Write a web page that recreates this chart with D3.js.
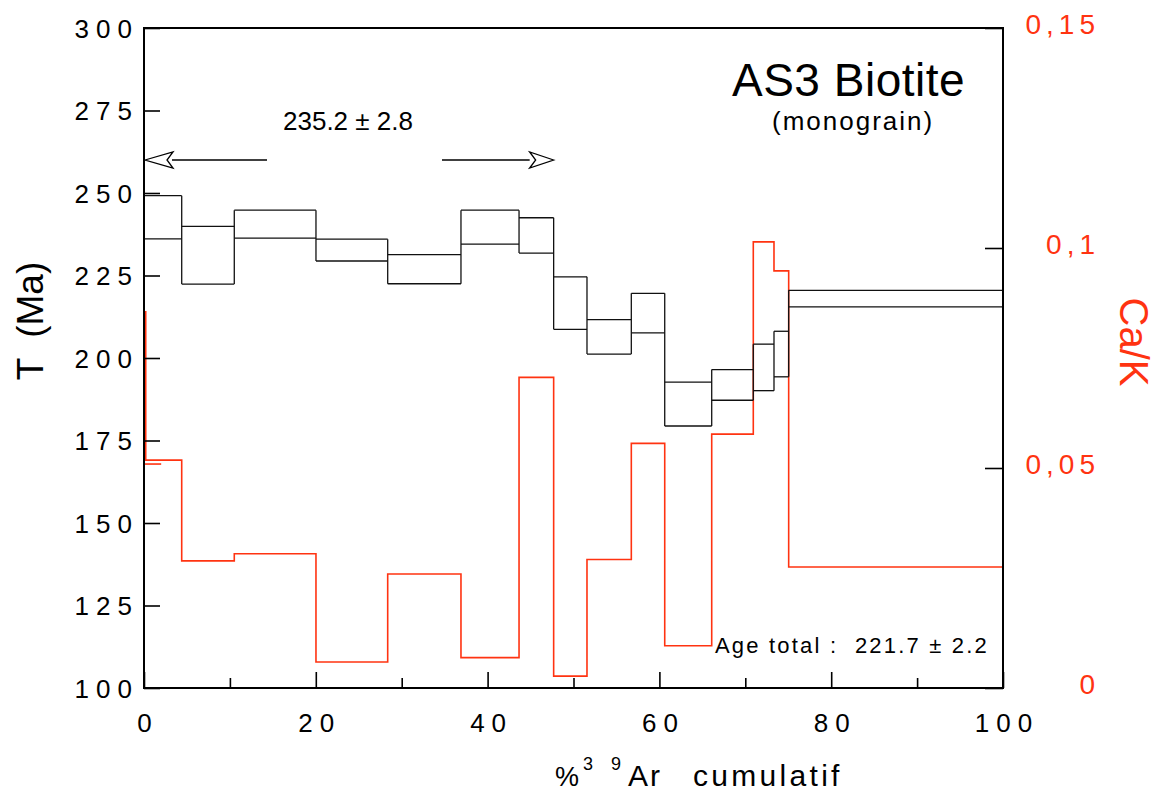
<!DOCTYPE html>
<html><head><meta charset="utf-8">
<script src="https://cdn.jsdelivr.net/npm/d3@7"></script>
<style>
html,body{margin:0;padding:0;background:#fff;}
svg{display:block;}
text{font-family:"Liberation Sans",Arial,Helvetica,sans-serif;}
</style></head>
<body>
<svg id="chart" width="1163" height="798"></svg>
<script>
// ---- data ----
const stepEdges = [0, 4.39, 10.51, 20.02, 28.37, 36.90, 43.66, 47.69, 51.57, 56.73, 60.62, 66.09, 70.93, 73.34, 75.05, 100];
const ageHigh = [249.2, 239.9, 244.8, 236.0, 231.3, 244.8, 242.5, 224.6, 211.6, 219.6, 192.7, 196.5, 204.2, 208.1, 220.5];
const ageLow  = [236.1, 222.4, 236.3, 229.4, 222.5, 234.5, 231.8, 208.7, 201.2, 207.6, 179.4, 187.2, 190.1, 194.3, 215.5];
const caKEdges = [0, 0.2, 4.39, 10.51, 20.02, 28.37, 36.90, 43.66, 47.69, 51.57, 56.73, 60.62, 66.09, 70.93, 73.34, 75.05, 100];
const caKValues = [0.0855, 0.0518, 0.0289, 0.0305, 0.0059, 0.0259, 0.0069, 0.0706, 0.0027, 0.0292, 0.0556, 0.0096, 0.0577, 0.1014, 0.0948, 0.0275];
const caKStub = [0, 2.0, 0.0509];
const xTicksMajor = [0, 20, 40, 60, 80, 100];
const xTicksMinor = [10, 30, 50, 70, 90];
const leftTicks = [100, 125, 150, 175, 200, 225, 250, 275, 300];
const rightTicks = [0, 0.05, 0.1, 0.15];
const rightTickLabels = ["0", "0,05", "0,1", "0,15"];
const plateau = {age: 260, x0: 0, x1: 47.69, label: "235.2 \u00b1 2.8"};
const totalAgeLabel = "Age total :  221.7 \u00b1 2.2";
const title = "AS3 Biotite";
const subtitle = "(monograin)";

// ---- layout ----
const RED = "#ff3311";
const svg = d3.select("#chart");
const x = d3.scaleLinear().domain([0, 100]).range([144, 1003]);
const yL = d3.scaleLinear().domain([100, 300]).range([688, 28]);
const yR = d3.scaleLinear().domain([0, 0.15]).range([688, 28]);

// red Ca/K step line
const redPts = [];
caKValues.forEach((v, i) => {
  redPts.push([x(caKEdges[i]), yR(v)]);
  redPts.push([x(caKEdges[i + 1]), yR(v)]);
});
svg.append("path").attr("d", d3.line()(redPts))
  .attr("fill", "none").attr("stroke", RED).attr("stroke-width", 1.6);
svg.append("line")
  .attr("x1", x(caKStub[0])).attr("x2", x(caKStub[1]))
  .attr("y1", yR(caKStub[2])).attr("y2", yR(caKStub[2]))
  .attr("stroke", RED).attr("stroke-width", 1.6);

// black age spectrum: top and bottom of each step, verticals joining neighbours
const gA = svg.append("g").attr("stroke", "#111").attr("stroke-width", 1.3).attr("fill", "none");
ageHigh.forEach((h, i) => {
  [h, ageLow[i]].forEach(v => {
    gA.append("line").attr("x1", x(stepEdges[i])).attr("x2", x(stepEdges[i + 1]))
      .attr("y1", yL(v)).attr("y2", yL(v));
  });
});
for (let i = 0; i <= ageHigh.length; i++) {
  const hs = [], ls_ = [];
  if (i > 0) { hs.push(ageHigh[i - 1]); ls_.push(ageLow[i - 1]); }
  if (i < ageHigh.length) { hs.push(ageHigh[i]); ls_.push(ageLow[i]); }
  gA.append("line").attr("x1", x(stepEdges[i])).attr("x2", x(stepEdges[i]))
    .attr("y1", yL(d3.max(hs))).attr("y2", yL(d3.min(ls_)));
}

// axes
function styleAxis(g) {
  g.select(".domain").remove();
  g.selectAll(".tick line").attr("stroke", "#000").attr("stroke-width", 1.6);
}
const fs = 26, ls = 7;
const gL = svg.append("g").attr("transform", `translate(${x(0)},0)`)
  .call(d3.axisLeft(yL).tickValues(leftTicks).tickSize(-16).tickFormat(d3.format("d")));
styleAxis(gL);
gL.selectAll(".tick text").attr("x", -12 + ls).attr("dy", 9)
  .attr("font-size", fs).attr("letter-spacing", ls).attr("fill", "#000")
  .attr("font-family", "Liberation Sans");

const gB = svg.append("g").attr("transform", `translate(0,${yL(100)})`)
  .call(d3.axisBottom(x).tickValues(xTicksMajor).tickSize(-16).tickFormat(d3.format("d")));
styleAxis(gB);
gB.selectAll(".tick text").attr("y", 44).attr("dy", 0).attr("dx", ls / 2)
  .attr("font-size", fs).attr("letter-spacing", ls).attr("fill", "#000")
  .attr("font-family", "Liberation Sans");
const gB2 = svg.append("g").attr("transform", `translate(0,${yL(100)})`)
  .call(d3.axisBottom(x).tickValues(xTicksMinor).tickSize(-10).tickFormat(""));
styleAxis(gB2);

const gR = svg.append("g").attr("transform", `translate(${x(100)},0)`)
  .call(d3.axisRight(yR).tickValues(rightTicks).tickSize(-18)
    .tickFormat((d, i) => rightTickLabels[i]));
styleAxis(gR);
gR.selectAll(".tick text").attr("text-anchor", "end").attr("x", 92 + 5).attr("dy", 5)
  .attr("font-size", 28).attr("letter-spacing", 5).attr("fill", RED)
  .attr("font-family", "Liberation Sans");

// frame
svg.append("rect").attr("x", x(0)).attr("y", yL(300))
  .attr("width", x(100) - x(0)).attr("height", yL(100) - yL(300))
  .attr("fill", "none").attr("stroke", "#000").attr("stroke-width", 2);

// axis titles
const xt = svg.append("text").attr("font-size", 30).attr("fill", "#000");
xt.append("tspan").attr("x", 555).attr("y", 786).attr("font-size", 27).text("%");
xt.append("tspan").attr("x", 583).attr("y", 770).attr("font-size", 18).text("3");
xt.append("tspan").attr("x", 611).attr("y", 770).attr("font-size", 18).text("9");
xt.append("tspan").attr("x", 628).attr("y", 786).attr("letter-spacing", 2).text("Ar");
xt.append("tspan").attr("x", 693).attr("y", 786).attr("letter-spacing", 3.3).text("cumulatif");

svg.append("text").attr("transform", "translate(43,321) rotate(-90)")
  .attr("text-anchor", "middle").attr("font-size", 37).attr("fill", "#000")
  .attr("xml:space", "preserve").text("T  (Ma)");
svg.append("text").attr("transform", "translate(1120,342) rotate(90)")
  .attr("text-anchor", "middle").attr("font-size", 40).attr("fill", RED)
  .text("Ca/K");

// titles
svg.append("text").attr("x", 732).attr("y", 96).attr("font-size", 46).attr("letter-spacing", 0.5).attr("fill", "#000").text(title);
svg.append("text").attr("x", 772).attr("y", 130).attr("font-size", 26).attr("letter-spacing", 2).attr("fill", "#000").text(subtitle);

// plateau arrow
const ay = yL(plateau.age), ax0 = x(plateau.x0), ax1 = x(plateau.x1);
svg.append("text").attr("x", 283).attr("y", 130).attr("font-size", 26).attr("fill", "#000").text(plateau.label);
svg.append("line").attr("x1", ax0 + 28).attr("x2", 267).attr("y1", ay).attr("y2", ay).attr("stroke", "#000").attr("stroke-width", 1.3);
svg.append("line").attr("x1", 442).attr("x2", ax1 - 24).attr("y1", ay).attr("y2", ay).attr("stroke", "#000").attr("stroke-width", 1.3);
svg.append("path").attr("d", `M${ax0 + 1},${ay} L${ax0 + 29},${ay - 8} L${ax0 + 23},${ay} L${ax0 + 29},${ay + 8} Z`)
  .attr("fill", "#fff").attr("stroke", "#000").attr("stroke-width", 1.3);
svg.append("path").attr("d", `M${ax1},${ay} L${ax1 - 24},${ay - 8} L${ax1 - 18},${ay} L${ax1 - 24},${ay + 8} Z`)
  .attr("fill", "#fff").attr("stroke", "#000").attr("stroke-width", 1.3);

// total age
svg.append("text").attr("x", 715).attr("y", 653).attr("font-size", 22).attr("letter-spacing", 2.2)
  .attr("xml:space", "preserve").attr("fill", "#000").text(totalAgeLabel);
</script>
</body></html>
